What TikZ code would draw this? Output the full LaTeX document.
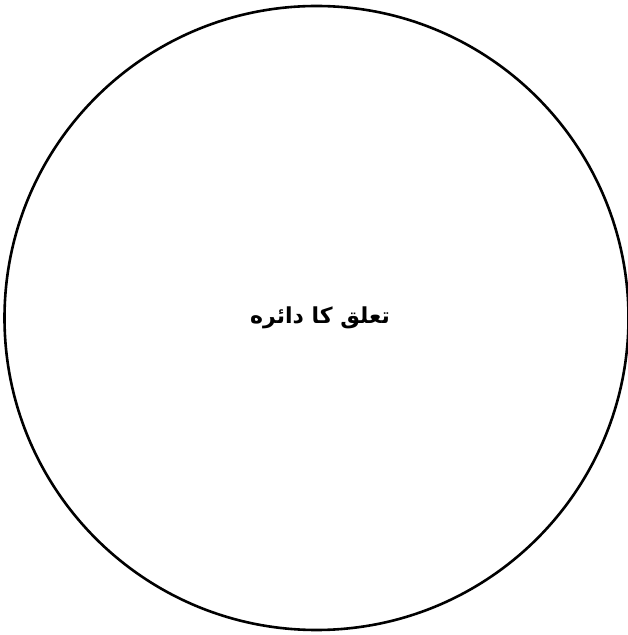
\documentclass[tikz,border=0pt]{standalone}
\usepackage{fontspec}
\newfontfamily\arabicfont[Script=Arabic]{DejaVu Sans}
\TeXXeTstate=1
\usetikzlibrary{positioning}

\begin{document}
\begin{tikzpicture}[x=1pt, y=1pt,
        ring/.style={draw, circle, line width=2.6pt, inner sep=0pt,
                     minimum size=624pt},
        title/.style={font=\arabicfont\bfseries\fontsize{22}{26}\selectfont,
                      inner sep=0pt}]
      \useasboundingbox (0,0) rectangle (628,635);
      \node[ring]  (circ)  at (316.5, 317) {};
      \node[title] (label) at (320, 317)   {\beginR تعلق کا دائره\endR};
    \end{tikzpicture}
\end{document}
